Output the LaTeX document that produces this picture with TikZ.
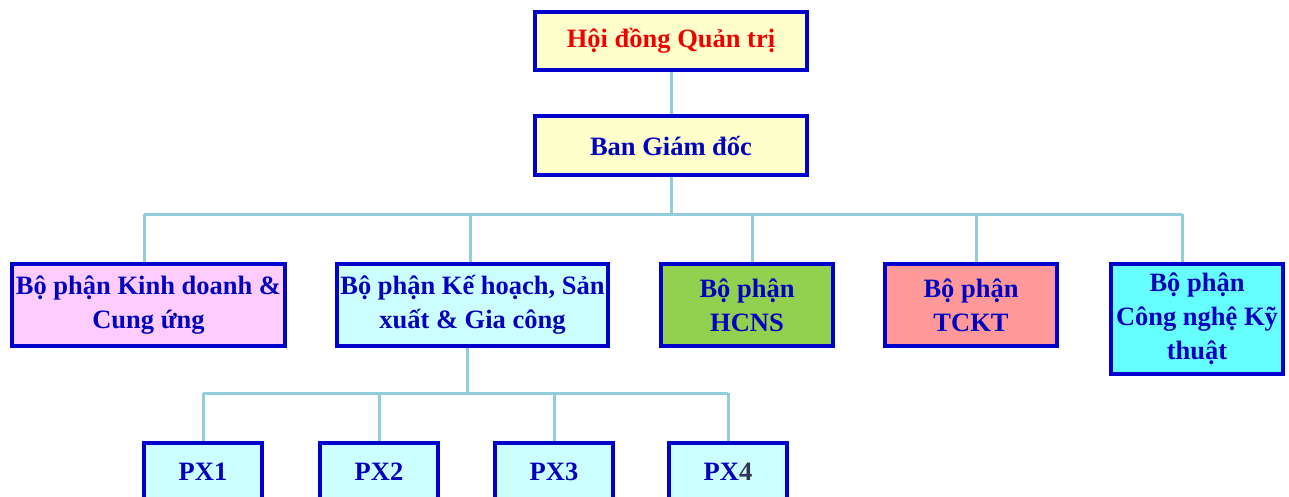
\documentclass[tikz,border=0pt]{standalone}
\usepackage{fontspec}
\setmainfont{Liberation Serif}
\usetikzlibrary{calc}

\definecolor{boxblue}{RGB}{0,0,204}
\definecolor{txtblue}{RGB}{0,0,190}
\definecolor{titlered}{RGB}{240,0,0}
\definecolor{linkblue}{RGB}{146,205,220}
\definecolor{fillyellow}{RGB}{255,255,204}
\definecolor{fillpink}{RGB}{255,204,255}
\definecolor{fillcyan}{RGB}{204,255,255}
\definecolor{fillgreen}{RGB}{146,208,80}
\definecolor{fillsalmon}{RGB}{255,153,153}
\definecolor{fillaqua}{RGB}{102,255,255}
\definecolor{pxgray}{RGB}{51,51,85}

\tikzset{
  orgbox/.style={draw=boxblue, line width=4pt, text=txtblue, align=center,
    inner sep=0pt, font=\fontsize{26.5}{34}\selectfont\bfseries},
  link/.style={draw=linkblue, line width=3pt}
}

\begin{document}
\begin{tikzpicture}[x=1pt,y=-1pt]
\useasboundingbox (0,0) rectangle (1289,496);
\coordinate(bus1) at (0,214);
\coordinate(bus2) at (0,393);
% top
\node[orgbox,fill=fillyellow,text=titlered,minimum width=272pt,minimum height=58pt] (hdqt) at (671,41) {Hội đồng Quản trị};
\node[orgbox,fill=fillyellow,minimum width=272pt,minimum height=59pt] (bgd) at (671,145.5) {Ban Giám đốc};
% departments
\node[orgbox,fill=fillpink,minimum width=273pt,minimum height=82pt] (kd) at (148.5,305) {Bộ phận Kinh doanh \&\\Cung ứng};
\node[orgbox,fill=fillcyan,minimum width=271pt,minimum height=82pt] (kh) at (472.5,305) {Bộ phận Kế hoạch, Sản\\xuất \& Gia công};
\node[orgbox,fill=fillgreen,minimum width=172pt,minimum height=82pt] (hcns) at (747,305) {Bộ phận\\HCNS};
\node[orgbox,fill=fillsalmon,minimum width=172pt,minimum height=82pt] (tckt) at (971,305) {Bộ phận\\TCKT};
\node[orgbox,fill=fillaqua,minimum width=172pt,minimum height=110pt] (cnkt) at (1197,319) {Bộ phận\\Công nghệ Kỹ\\thuật};
% workshops
\node[orgbox,fill=fillcyan,minimum width=118pt,minimum height=58pt] (px1) at (203,472) {PX1};
\node[orgbox,fill=fillcyan,minimum width=118pt,minimum height=58pt] (px2) at (379,472) {PX2};
\node[orgbox,fill=fillcyan,minimum width=118pt,minimum height=58pt] (px3) at (554,472) {PX3};
\node[orgbox,fill=fillcyan,minimum width=118pt,minimum height=58pt] (px4) at (728,472) {PX\textcolor{pxgray}{4}};
% links
\draw[link] (hdqt) -- (bgd);
\draw[link] (bgd) -- (bgd.south |- bus1);
\foreach \n/\dx in {kd/-4.5,kh/-2.5,hcns/5,tckt/5,cnkt/-15}{
  \coordinate(t\n) at ([xshift=\dx pt]\n.north);
  \draw[link] (t\n) -- (t\n |- bus1);
}
\draw[link] (tkd |- bus1) -- (tcnkt |- bus1);
\coordinate(khb) at ([xshift=-5.5pt]kh.south);
\draw[link] (khb) -- (khb |- bus2);
\foreach \n in {px1,px2,px3,px4}
  \draw[link] (\n) -- (\n.north |- bus2);
\draw[link] (px1.north |- bus2) -- (px4.north |- bus2);
\end{tikzpicture}
\end{document}
